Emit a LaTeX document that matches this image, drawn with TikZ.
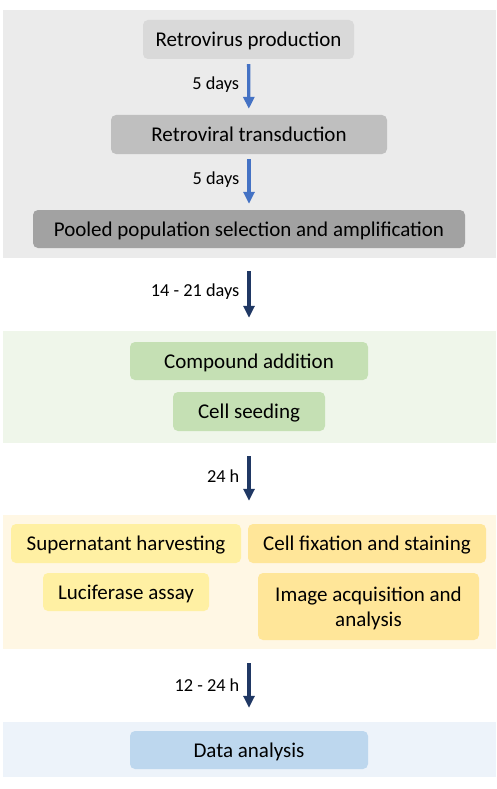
\documentclass[tikz,border=0pt]{standalone}
\usepackage{fontspec}
\setmainfont{Carlito}
\usetikzlibrary{arrows.meta}
\definecolor{grayPanel}{HTML}{EBEBEB}
\definecolor{grayA}{HTML}{D9D9D9}
\definecolor{grayB}{HTML}{BFBFBF}
\definecolor{grayC}{HTML}{A2A2A2}
\definecolor{greenPanel}{HTML}{EFF6EA}
\definecolor{greenBox}{HTML}{C5E0B4}
\definecolor{yellowPanel}{HTML}{FFF7E4}
\definecolor{yellowA}{HTML}{FFF0A3}
\definecolor{yellowB}{HTML}{FFE699}
\definecolor{bluePanel}{HTML}{EDF3FA}
\definecolor{blueBox}{HTML}{BDD7EE}
\definecolor{arrowBlue}{HTML}{4472C4}
\definecolor{arrowNavy}{HTML}{203864}

\begin{document}
\begin{tikzpicture}[x=1pt,y=-1pt,
    panel/.style={inner sep=0pt,minimum width=493pt},
    step box/.style={rounded corners=5pt,inner sep=0pt,text depth=0pt,align=center,font=\fontsize{21}{25}\selectfont},
    flow/.style={-{Triangle[width=11pt,length=12pt]},line width=3.3pt},
    time/.style={left,inner sep=0pt,xshift=-8pt,text=black,font=\fontsize{18.3}{21}\selectfont}]
    \useasboundingbox (0,0) rectangle (496,789);

    \node[panel,fill=grayPanel,minimum height=248pt] (P1) at (249.5,134){};
    \node[panel,fill=greenPanel,minimum height=112pt] (P2) at (249.5,387){};
    \node[panel,fill=yellowPanel,minimum height=134pt] (P3) at (249.5,582){};
    \node[panel,fill=bluePanel,minimum height=55pt] (P4) at (249.5,749.5){};

    \node[step box,fill=grayA,minimum width=211pt,minimum height=39pt] (prod) at (248.5,39.5){Retrovirus production};
    \node[step box,fill=grayB,minimum width=276pt,minimum height=39pt] (trans) at (249,134.5){Retroviral transduction};
    \node[step box,fill=grayC,minimum width=432pt,minimum height=38pt] (pool) at (249,229){Pooled population selection and amplification};

    \node[step box,fill=greenBox,minimum width=238pt,minimum height=38pt] (cmpd) at (249,361){Compound addition};
    \node[step box,fill=greenBox,minimum width=152pt,minimum height=39pt] (seed) at (249,411.5){Cell seeding};

    \node[step box,fill=yellowA,minimum width=230pt,minimum height=39pt] (super) at (126,543.5){Supernatant harvesting};
    \node[step box,fill=yellowB,minimum width=238pt,minimum height=39pt] (fix) at (367,543.5){Cell fixation and staining};
    \node[step box,fill=yellowA,minimum width=166pt,minimum height=38pt] (luc) at (126,592){Luciferase assay};
    \node[step box,fill=yellowB,minimum width=221pt,minimum height=67pt] (img) at (368.5,606.5){Image acquisition and\\analysis};

    \node[step box,fill=blueBox,minimum width=238pt,minimum height=38pt] (data) at (249,750){Data analysis};

    \draw[flow,arrowBlue,shorten <=5pt,shorten >=6pt] (prod) -- node[time,yshift=2pt]{5 days} (trans);
    \draw[flow,arrowBlue,shorten <=5pt,shorten >=6pt] (trans) -- node[time,yshift=2pt]{5 days} (pool);
    \draw[flow,arrowNavy,shorten <=13pt,shorten >=13pt] (P1.south -| pool.south) -- node[time,yshift=3pt]{14 - 21 days} (P2.north -| cmpd.north);
    \draw[flow,arrowNavy,shorten <=13pt,shorten >=14pt] (P2.south -| seed.south) -- node[time,yshift=3pt]{24 h} (P3.north -| seed.north);
    \draw[flow,arrowNavy,shorten <=14pt,shorten >=14pt] (P3.south -| data.south) -- node[time]{12 - 24 h} (P4.north -| data.north);
\end{tikzpicture}
\end{document}
